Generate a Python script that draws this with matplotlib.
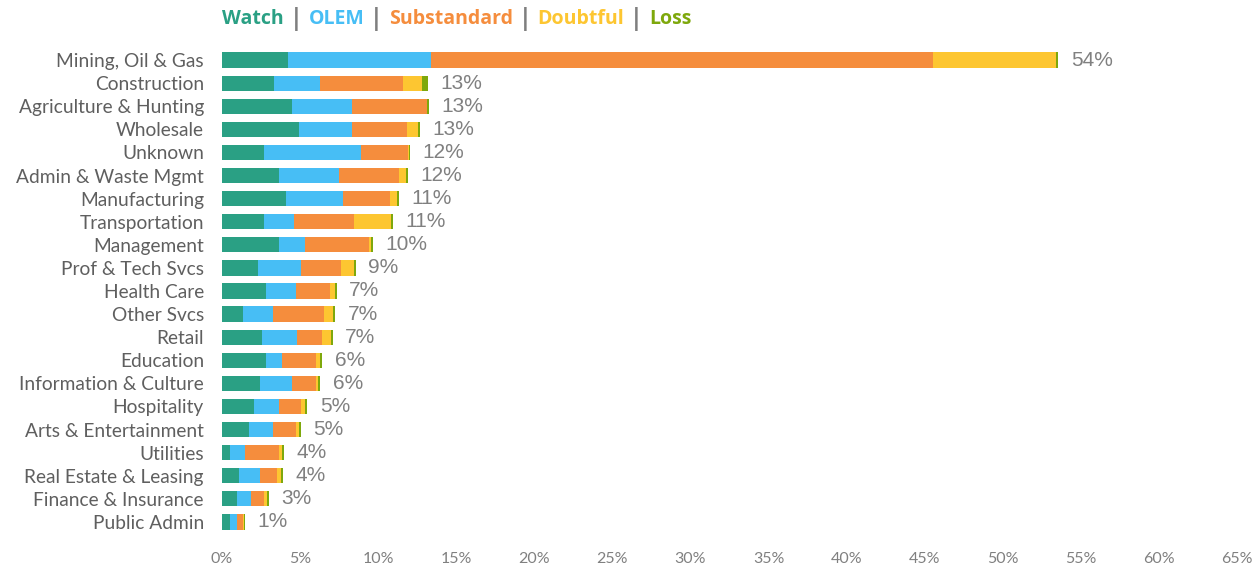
import numpy as np
import matplotlib
matplotlib.use("Agg")
import matplotlib.pyplot as plt

categories = ["Mining, Oil & Gas", "Construction", "Agriculture & Hunting", "Wholesale",
              "Unknown", "Admin & Waste Mgmt", "Manufacturing", "Transportation",
              "Management", "Prof & Tech Svcs", "Health Care", "Other Svcs", "Retail",
              "Education", "Information & Culture", "Hospitality", "Arts & Entertainment",
              "Utilities", "Real Estate & Leasing", "Finance & Insurance", "Public Admin"]
watch = [4.2, 3.3, 4.5, 4.9, 2.7, 3.65, 4.1, 2.7, 3.65, 2.33, 2.84, 1.37, 2.58, 2.84,
         2.43, 2.03, 1.74, 0.5, 1.09, 0.94, 0.5]
olem = [9.2, 3.0, 3.85, 3.45, 6.2, 3.85, 3.67, 1.93, 1.68, 2.73, 1.92, 1.92, 2.2, 0.98,
        2.07, 1.64, 1.55, 0.99, 1.36, 0.94, 0.44]
substandard = [32.1, 5.3, 4.75, 3.5, 3.0, 3.85, 3.0, 3.82, 4.1, 2.56, 2.16, 3.26, 1.62,
               2.17, 1.49, 1.39, 1.47, 2.18, 1.07, 0.83, 0.43]
doubtful = [7.9, 1.2, 0.05, 0.7, 0.05, 0.43, 0.42, 2.35, 0.13, 0.85, 0.3, 0.55, 0.56,
            0.3, 0.15, 0.27, 0.14, 0.15, 0.26, 0.15, 0.03]
loss = [0.15, 0.4, 0.1, 0.15, 0.1, 0.13, 0.13, 0.12, 0.13, 0.11, 0.13, 0.13, 0.13, 0.13,
        0.15, 0.13, 0.14, 0.13, 0.14, 0.15, 0.09]
total_labels = ["54%", "13%", "13%", "13%", "12%", "12%", "11%", "11%", "10%", "9%", "7%",
                "7%", "7%", "6%", "6%", "5%", "5%", "4%", "4%", "3%", "1%"]

series = ["Watch", "OLEM", "Substandard", "Doubtful", "Loss"]
colors = ["#2aa084", "#47bef5", "#f58d3d", "#fdc631", "#7ea80c"]

fig = plt.figure(figsize=(12.56, 5.67), dpi=100)
ax = fig.add_axes([222 / 1256, 0.0591, 1015 / 1256, 0.8554])

y = np.arange(len(categories))
left = np.zeros(len(categories))
for vals, col in zip([watch, olem, substandard, doubtful, loss], colors):
    ax.barh(y, vals, left=left, height=0.66, color=col, linewidth=0)
    left = left + np.array(vals)

for yi, tot, lab in zip(y, left, total_labels):
    ax.annotate(lab, (tot, yi), xytext=(9, 0), textcoords="offset points",
                va="center", ha="left", fontsize=15, color="#808080",
                family="Liberation Sans")

ax.set_xlim(0, 65)
ax.set_ylim(len(categories) - 0.5, -0.5)
ax.set_xticks(np.arange(0, 66, 5))
ax.set_xticklabels([f"{v}%" for v in range(0, 66, 5)], family="Lato", fontsize=11.5,
                   color="#808080")
ax.set_yticks(y)
ax.set_yticklabels(categories, family="Lato", fontsize=13.8, color="#5f5f5f")
ax.tick_params(axis="both", length=0)
ax.tick_params(axis="x", pad=13)
ax.tick_params(axis="y", pad=13)
for s in ax.spines.values():
    s.set_visible(False)

# legend as coloured title text
parts = []
for i, (name, col) in enumerate(zip(series, colors)):
    if i > 0:
        parts.append((" | ", "#7f7f7f", 16.5))
    parts.append((name, col, 14))
prev = None
for txt, col, fs in parts:
    if prev is None:
        prev = fig.text(222 / 1256, 1 - 19 / 567, txt, color=col, fontsize=fs,
                        fontweight="bold", family="Open Sans", va="center", ha="left")
    else:
        prev = ax.annotate(txt, xy=(1, 0.5), xycoords=prev, va="center", ha="left",
                           color=col, fontsize=fs, fontweight="bold", family="Open Sans",
                           annotation_clip=False)

fig.savefig("out.png", dpi=100)
